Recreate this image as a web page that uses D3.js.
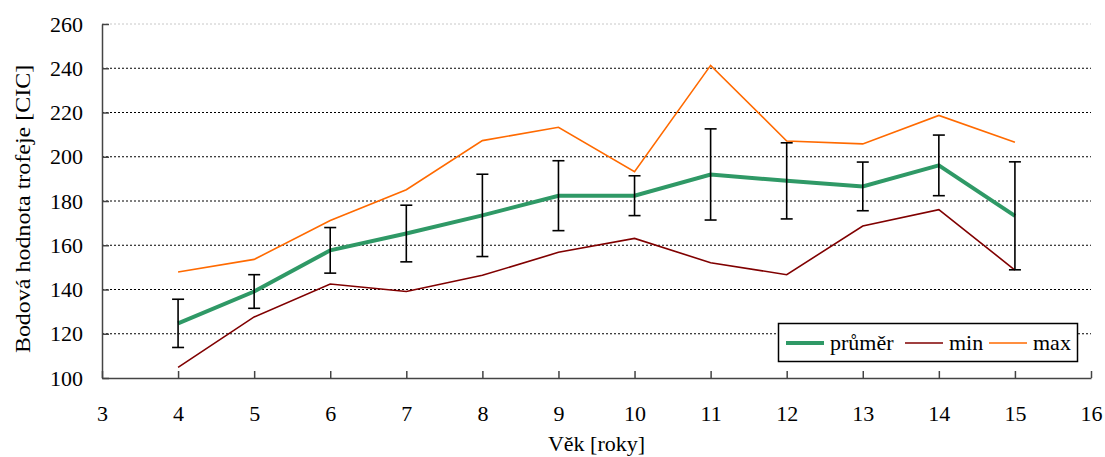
<!DOCTYPE html>
<html>
<head>
<meta charset="utf-8">
<script src="https://cdn.jsdelivr.net/npm/d3@7"></script>
<style>
    html, body { margin: 0; padding: 0; background: #fff; }
</style>
</head>
<body>
<div id="chart"></div>
<script>
// věk [roky]
const ages = [4, 5, 6, 7, 8, 9, 10, 11, 12, 13, 14, 15];
// průměr a směrodatná odchylka
const prumer = [124.7, 139.1, 157.7, 165.3, 173.5, 182.4, 182.4, 192.0, 189.1, 186.6, 196.1, 173.3];
const odchylka = [10.9, 7.6, 10.3, 12.8, 18.6, 15.8, 9.0, 20.6, 17.2, 11.0, 13.7, 24.4];
const minVals = [104.8, 127.6, 142.5, 139.1, 146.4, 156.8, 163.1, 152.1, 146.7, 168.7, 176.1, 148.8];
const maxVals = [147.9, 153.6, 171.2, 185.1, 207.3, 213.3, 193.2, 241.3, 207.1, 205.8, 218.7, 206.5];
const xTicks = [3, 4, 5, 6, 7, 8, 9, 10, 11, 12, 13, 14, 15, 16];
const yTicks = [100, 120, 140, 160, 180, 200, 220, 240, 260];

const FONT = "'Liberation Serif', 'Times New Roman', serif";

const svgWidth = 1105,
    svgHeight = 457,
    margin = {top: 24, right: 14, bottom: 79, left: 102},
    width = svgWidth - margin.left - margin.right,
    height = svgHeight - margin.top - margin.bottom;

const svg = d3.select('#chart')
    .append('svg')
    .attr('width', svgWidth)
    .attr('height', svgHeight)
    .style('font-family', FONT);

const x = d3.scaleLinear().domain([3, 16]).range([0, width]);
const y = d3.scaleLinear().domain([100, 260]).range([height, 0]);

const g = svg.append('g')
    .attr('transform', `translate(${margin.left},${margin.top})`);

// mřížka
g.selectAll('.grid')
    .data(yTicks.filter(d => d > 100))
    .enter()
    .append('line')
    .attr('class', 'grid')
    .attr('x1', 0)
    .attr('x2', width)
    .attr('y1', d => y(d))
    .attr('y2', d => y(d))
    .attr('stroke', d => d === 260 ? '#c8c8c8' : '#000')
    .attr('stroke-width', 1)
    .attr('stroke-dasharray', '2,2');

// osy
const xAxis = g.append('g')
    .attr('transform', `translate(0,${height})`)
    .call(d3.axisBottom(x).tickValues(xTicks).tickFormat(d3.format('d'))
        .tickSizeInner(-7).tickSizeOuter(0).tickPadding(27));

const yAxis = g.append('g')
    .call(d3.axisLeft(y).tickValues(yTicks).tickFormat(d3.format('d'))
        .tickSizeInner(-7).tickSizeOuter(0).tickPadding(19));

[xAxis, yAxis].forEach(a => {
    a.attr('font-family', null).attr('font-size', null);
    a.selectAll('path, line').attr('stroke', '#444').attr('stroke-width', 1.5);
    a.selectAll('text')
        .style('font-family', FONT)
        .style('font-size', '22px')
        .attr('fill', '#000');
});

// min a max
const line = vals => d3.line()
    .x((d, i) => x(ages[i]))
    .y(d => y(d))(vals);

g.append('path')
    .attr('d', line(maxVals))
    .attr('fill', 'none')
    .attr('stroke', '#ff6a00')
    .attr('stroke-width', 1.6);

g.append('path')
    .attr('d', line(minVals))
    .attr('fill', 'none')
    .attr('stroke', '#800000')
    .attr('stroke-width', 1.6);

// průměr
g.append('path')
    .attr('d', line(prumer))
    .attr('fill', 'none')
    .attr('stroke', '#2f9966')
    .attr('stroke-width', 4);

// chybové úsečky
const err = g.selectAll('.err')
    .data(ages)
    .enter()
    .append('g')
    .attr('class', 'err')
    .attr('stroke', '#000')
    .attr('stroke-width', 1.6);

err.append('line')
    .attr('x1', d => x(d)).attr('x2', d => x(d))
    .attr('y1', (d, i) => y(prumer[i] - odchylka[i]))
    .attr('y2', (d, i) => y(prumer[i] + odchylka[i]));
err.append('line')
    .attr('x1', d => x(d) - 6).attr('x2', d => x(d) + 6)
    .attr('y1', (d, i) => y(prumer[i] + odchylka[i]))
    .attr('y2', (d, i) => y(prumer[i] + odchylka[i]));
err.append('line')
    .attr('x1', d => x(d) - 6).attr('x2', d => x(d) + 6)
    .attr('y1', (d, i) => y(prumer[i] - odchylka[i]))
    .attr('y2', (d, i) => y(prumer[i] - odchylka[i]));

// popisky os
svg.append('text')
    .attr('x', margin.left + width / 2)
    .attr('y', 451)
    .attr('text-anchor', 'middle')
    .style('font-family', FONT)
    .style('font-size', '22px')
    .text('Věk [roky]');

// svislý popisek je v originále trochu natažený
svg.append('text')
    .attr('transform', 'translate(30,209) rotate(-90) scale(1.09,1)')
    .attr('text-anchor', 'middle')
    .style('font-family', FONT)
    .style('font-size', '22px')
    .text('Bodová hodnota trofeje [CIC]');

// legenda
const legendItems = [
    {name: 'průměr', color: '#2f9966', w: 4},
    {name: 'min', color: '#800000', w: 1.6},
    {name: 'max', color: '#ff6a00', w: 1.6}
];
const legendX = [786, 905, 989];

const legend = svg.append('g');
legend.append('rect')
    .attr('x', 778.5).attr('y', 323.5)
    .attr('width', 299).attr('height', 38)
    .attr('fill', '#fff')
    .attr('stroke', '#000')
    .attr('stroke-width', 1.5);

legendItems.forEach((it, i) => {
    legend.append('line')
        .attr('x1', legendX[i]).attr('x2', legendX[i] + 38)
        .attr('y1', 343).attr('y2', 343)
        .attr('stroke', it.color)
        .attr('stroke-width', it.w);
    legend.append('text')
        .attr('x', legendX[i] + 44)
        .attr('y', 350)
        .style('font-family', FONT)
        .style('font-size', '22px')
        .text(it.name);
});
</script>
</body>
</html>
